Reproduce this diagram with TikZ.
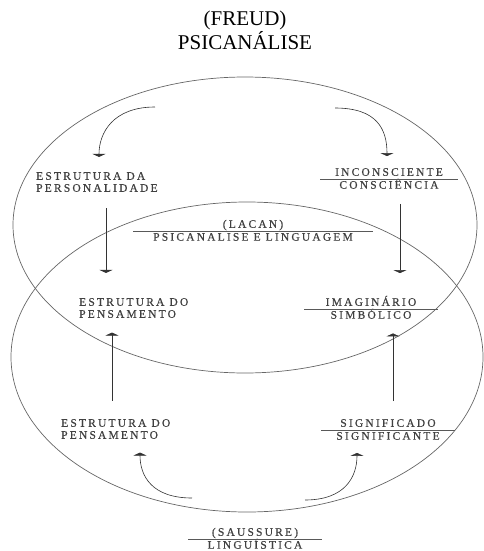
\documentclass[tikz,border=0pt]{standalone}
\usepackage{fontspec}
\setmainfont{Liberation Serif}
\newfontfamily\lblfont[LetterSpace=19, FakeBold=0.5]{Liberation Serif}
\usetikzlibrary{positioning, arrows.meta}

\begin{document}
\begin{tikzpicture}[
    x=1pt, y=-1pt,
    ring/.style={draw=black!60, line width=0.7pt},
    lbl/.style={font=\lblfont\fontsize{11.5}{12}\selectfont, text=black!75, inner sep=1pt},
    numer/.style={lbl, text height=7.5pt, text depth=0pt},
    denom/.style={lbl, text height=7.5pt, text depth=0pt},
    fracline/.style={draw=black!65, line width=0.5pt},
    arr/.style={-{Triangle[width=13pt,length=3pt]}, draw=black!80, line width=0.6pt},
    title/.style={font=\rmfamily\fontsize{21}{24}\selectfont, align=center, inner sep=0pt}
]
    \useasboundingbox (0,0) rectangle (484,551);

    % the two big rings: Freud above, Saussure below
    \draw[ring] (245,225) ellipse [x radius=232pt, y radius=148pt];
    \draw[ring] (247,357) ellipse [x radius=236pt, y radius=155pt];

    \node[title] (freud) at (245,30) {(FREUD)\\PSICANÁLISE};

    % left column
    \node[lbl, anchor=west, align=left] (persona) at (35,182) {ESTRUTURA DA\\PERSONALIDADE};
    \node[lbl, anchor=west, align=left] (pens1) at (78,308) {ESTRUTURA DO\\PENSAMENTO};
    \node[lbl, anchor=west, align=left] (pens2) at (60,429) {ESTRUTURA DO\\PENSAMENTO};

    % the "fractions"
    \coordinate (incons) at (389,179);
    \node[numer, above=2pt of incons] (incons-t) {INCONSCIENTE};
    \node[denom, below=1pt of incons] (incons-b) {CONSCIÊNCIA};
    \draw[fracline] ([xshift=-69pt]incons) -- ([xshift=69pt]incons);

    \coordinate (lacan) at (253,231);
    \node[numer, above=2pt of lacan] (lacan-t) {(LACAN)};
    \node[denom, below=1pt of lacan] (lacan-b) {PSICANALISE E LINGUAGEM};
    \draw[fracline] ([xshift=-120pt]lacan) -- ([xshift=120pt]lacan);

    \coordinate (imag) at (371,309);
    \node[numer, above=2pt of imag] (imag-t) {IMAGINÁRIO};
    \node[denom, below=1pt of imag] (imag-b) {SIMBÓLICO};
    \draw[fracline] ([xshift=-67pt]imag) -- ([xshift=67pt]imag);

    \coordinate (signif) at (388,430);
    \node[numer, above=2pt of signif] (signif-t) {SIGNIFICADO};
    \node[denom, below=1pt of signif] (signif-b) {SIGNIFICANTE};
    \draw[fracline] ([xshift=-67pt]signif) -- ([xshift=67pt]signif);

    \coordinate (sauss) at (255,539);
    \node[numer, above=2pt of sauss] (sauss-t) {(SAUSSURE)};
    \node[denom, below=1pt of sauss] (sauss-b) {LINGUÍSTICA};
    \draw[fracline] ([xshift=-67pt]sauss) -- ([xshift=67pt]sauss);

    % free ends of the curved arrows and the x of each arrow
    \coordinate (startTL) at (155,107);
    \coordinate (startTR) at (335,108);
    \coordinate (startBL) at (192,498);
    \coordinate (startBR) at (305,500);
    \coordinate (xTL) at (99,0);
    \coordinate (xTR) at (387,0);
    \coordinate (xA) at (106,0);
    \coordinate (xB) at (112,0);
    \coordinate (xC) at (400,0);
    \coordinate (xD) at (393,0);
    \coordinate (xBL) at (140,0);
    \coordinate (xBR) at (357,0);

    \draw[arr, shorten >=14pt] (startTL) .. controls +(-42,0) and +(0,-38) .. (persona.north -| xTL);
    \draw[arr, shorten >=11pt] (startTR) .. controls +(42,0) and +(0,-38) .. (incons-t.north -| xTR);
    \draw[arr, shorten <=15pt, shorten >=24pt] (persona.south -| xA) -- (pens1.north -| xA);
    \draw[arr, shorten <=14pt, shorten >=24pt] (incons-b.south -| xC) -- (imag-t.north -| xC);
    \draw[arr, shorten <=17pt, shorten >=13.5pt] (pens2.north -| xB) -- (pens1.south -| xB);
    \draw[arr, shorten <=17pt, shorten >=13.5pt] (signif-t.north -| xD) -- (imag-b.south -| xD);
    \draw[arr, shorten >=12.5pt] (startBL) .. controls +(-40,0) and +(0,36) .. (pens2.south -| xBL);
    \draw[arr, shorten >=12pt] (startBR) .. controls +(40,0) and +(0,36) .. (signif-b.south -| xBR);
\end{tikzpicture}
\end{document}
